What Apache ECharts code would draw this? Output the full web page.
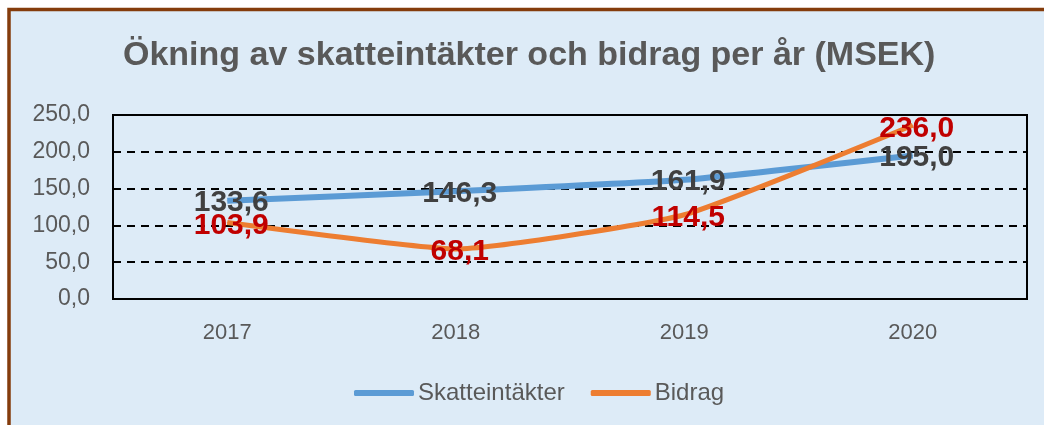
<!DOCTYPE html>
<html>
<head>
<meta charset="utf-8">
<script src="https://cdn.jsdelivr.net/npm/echarts@6/dist/echarts.min.js"></script>
<style>
  html, body { margin: 0; padding: 0; background: #fff; }
  #main { width: 1044px; height: 425px; }
</style>
</head>
<body>
<div id="main"></div>
<script>
// data
var years = ["2017", "2018", "2019", "2020"];
var skatt = [133.6, 146.3, 161.9, 195.0];
var bidrag = [103.9, 68.1, 114.5, 236.0];
var seriesNames = ["Skatteintäkter", "Bidrag"];

var myChart = echarts.init(document.getElementById("main"));

function fmt(v) {
  return Number(v).toFixed(1).replace(".", ",");
}

var option = {
  backgroundColor: "#fff",
  animation: false,
  graphic: [
    {
      type: "rect",
      z: -10,
      shape: { x: 9, y: 9.5, width: 1100, height: 500 },
      style: { fill: "#DDEBF7", stroke: "#843C0C", lineWidth: 3.5 }
    }
  ],
  title: {
    text: "Ökning av skatteintäkter och bidrag per år (MSEK)",
    left: 123,
    top: 39,
    padding: 0,
    textStyle: {
      fontFamily: "Liberation Sans",
      fontSize: 34,
      fontWeight: "bold",
      color: "#595959"
    }
  },
  legend: {
    data: seriesNames,
    left: 349,
    top: 376,
    icon: "roundRect",
    itemWidth: 60,
    itemHeight: 6,
    itemGap: 26,
    textStyle: {
      fontFamily: "Liberation Sans",
      fontSize: 24,
      color: "#595959",
      padding: [0, 0, 0, -1]
    }
  },
  grid: {
    left: 113,
    top: 115,
    right: 17,
    bottom: 126,
    show: true,
    borderColor: "#000",
    borderWidth: 2,
    backgroundColor: "transparent"
  },
  xAxis: {
    type: "category",
    data: years,
    axisLine: { show: false },
    axisTick: { show: false },
    axisLabel: {
      margin: 23,
      fontFamily: "Liberation Sans",
      fontSize: 22,
      color: "#595959"
    }
  },
  yAxis: {
    type: "value",
    min: 0,
    max: 250,
    interval: 50,
    axisLine: { show: false },
    axisTick: { show: false },
    axisLabel: {
      margin: 23,
      fontFamily: "Liberation Sans",
      fontSize: 23,
      color: "#595959",
      formatter: fmt
    },
    splitLine: {
      lineStyle: { color: "#000", width: 2, type: [8, 6] }
    }
  },
  series: [
    {
      name: seriesNames[0],
      type: "line",
      data: skatt,
      smooth: 0.15,
      symbol: "circle",
      symbolSize: 1,
      color: "#5B9BD5",
      lineStyle: { width: 6, color: "#5B9BD5" },
      label: {
        show: true,
        position: "inside",
        offset: [4, 2],
        formatter: function (p) { return fmt(p.value); },
        fontFamily: "Liberation Sans",
        fontSize: 30,
        fontWeight: "bold",
        color: "#404040"
      },
      z: 3
    },
    {
      name: seriesNames[1],
      type: "line",
      data: bidrag,
      smooth: 0.15,
      symbol: "circle",
      symbolSize: 1,
      color: "#ED7D31",
      lineStyle: { width: 5, color: "#ED7D31" },
      label: {
        show: true,
        position: "inside",
        offset: [4, 3],
        formatter: function (p) { return fmt(p.value); },
        fontFamily: "Liberation Sans",
        fontSize: 30,
        fontWeight: "bold",
        color: "#C00000"
      },
      z: 4
    }
  ]
};

myChart.setOption(option);
</script>
</body>
</html>
